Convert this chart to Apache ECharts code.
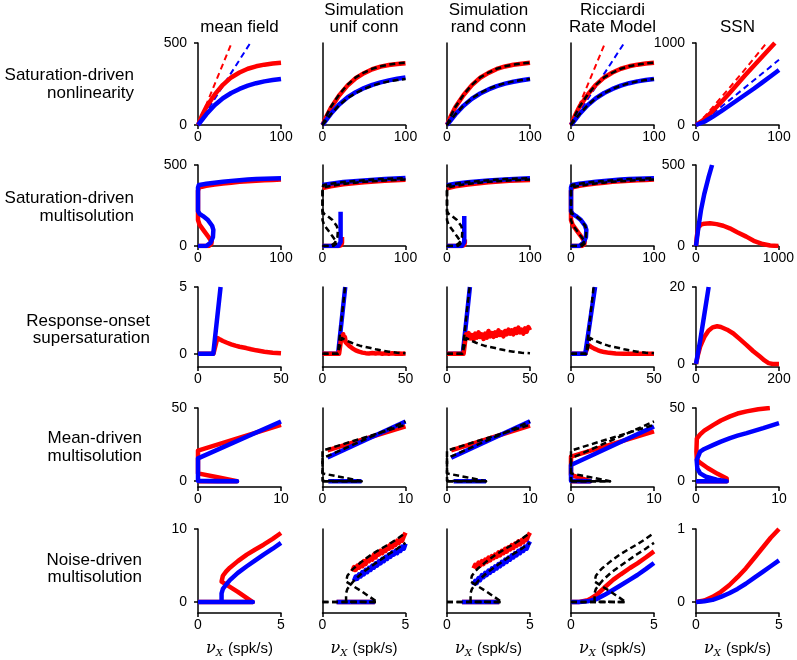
<!DOCTYPE html>
<html><head><meta charset="utf-8">
<script src="https://cdn.jsdelivr.net/npm/echarts@6/dist/echarts.min.js"></script>
<style>html,body{margin:0;padding:0;background:#fff}#c{width:797px;height:660px}</style>
</head><body><div id="c"></div>
<script>
// ---------- text ----------
const colTitles = ['mean field', 'Simulation\nunif conn', 'Simulation\nrand conn', 'Ricciardi\nRate Model', 'SSN'];
const rowLabels = ['Saturation-driven\nnonlinearity', 'Saturation-driven\nmultisolution', 'Response-onset\nsupersaturation', 'Mean-driven\nmultisolution', 'Noise-driven\nmultisolution'];
const xLabelText = '{nu|ν}{sub|X}{unit| (spk/s)}';

// ---------- tick labels ----------
const xTickVals = [
  [[0,100],[0,100],[0,100],[0,100],[0,100]],
  [[0,100],[0,100],[0,100],[0,100],[0,1000]],
  [[0,50],[0,50],[0,50],[0,50],[0,200]],
  [[0,10],[0,10],[0,10],[0,10],[0,10]],
  [[0,5],[0,5],[0,5],[0,5],[0,5]]
];
const yTickVals = [
  [[0,500],[0,500],[0,500],[0,500],[0,1000]],
  [[0,500],[0,500],[0,500],[0,500],[0,500]],
  [[0,5],[0,5],[0,5],[0,5],[0,20]],
  [[0,50],[0,50],[0,50],[0,50],[0,50]],
  [[0,10],[0,10],[0,10],[0,10],[0,1]]
];
const yLow = [
  [0,0,0,0,0],
  [0,0,0,0,0],
  [-1,-1,-1,-1,-0.8],
  [-4,-4,-4,-4,-4],
  [-1.5,-1.5,-1.5,-1.5,-0.15]
];

// ---------- Row 1: saturation-driven nonlinearity ----------
const r1_mf_E = [[0,0],[5,60],[10,110],[20,185],[30,245],[40,290],[50,320],[60,343],[70,358],[80,368],[90,375],[100,380]];
const r1_mf_I = [[0,0],[10,65],[20,120],[30,163],[40,195],[50,220],[60,240],[70,255],[80,266],[90,274],[100,281]];
const r1_lin_E = [[0,0],[40.5,500]];
const r1_lin_I = [[0,0],[63,500]];
const r1_su_E = [[0,0],[5,55],[10,104],[20,180],[30,240],[40,285],[50,316],[60,340],[70,356],[80,366],[90,372],[100,377]];
const r1_su_I = [[0,0],[10,68],[20,125],[30,168],[40,200],[50,225],[60,245],[70,260],[80,272],[90,282],[100,290]];
const r1_sr_E = [[0,0],[5,58],[10,108],[20,183],[30,243],[40,288],[50,318],[60,342],[70,357],[80,367],[90,374],[100,380]];
const r1_sr_I = [[0,0],[10,64],[20,118],[30,160],[40,192],[50,217],[60,237],[70,252],[80,264],[90,273],[100,281]];
const r1_ric_linE = [[0,0],[41,500]];
const r1_ric_linI = [[0,0],[64,500]];
const r1_ssn_E = [[0,0],[10,70],[20,170],[30,275],[40,385],[50,500],[60,615],[70,725],[80,835],[90,945],[95,1000]];
const r1_ssn_I = [[0,0],[10,40],[20,100],[30,165],[40,235],[50,305],[60,375],[70,445],[80,520],[90,595],[100,670]];
const r1_ssn_linE = [[0,0],[10,100],[20,215],[40,450],[60,690],[85,1000]];
const r1_ssn_linI = [[0,0],[20,140],[40,300],[60,465],[80,630],[100,795]];

// ---------- Row 2: saturation-driven multisolution ----------
const r2_mf_E = [[0,0],[13,0],[16,12],[16.5,27],[12,60],[7,95],[2,130],[0,160],[0,340],[1,360],[5,366],[10,371],[20,379],[30,386],[40,391],[50,396],[60,400],[70,403],[80,406],[90,408],[100,410]];
const r2_mf_I = [[0,0],[10,0],[15,20],[18,55],[18.5,100],[17,125],[12,160],[6,185],[2,198],[0,215],[0,360],[1,377],[5,380],[10,384],[20,391],[30,397],[40,402],[50,406],[60,410],[70,413],[80,415],[90,417],[100,418]];
const r2_su_Eup = [[0,358],[10,369],[25,381],[50,394],[75,403],[100,409]];
const r2_su_Iup = [[0,376],[10,385],[25,395],[50,405],[75,413],[100,419]];
const r2_su_Elow = [[0,0],[20,0],[22.5,5],[23.5,20],[23.5,55]];
const r2_su_Ilow = [[0,0],[19,0],[21,5],[21.8,25],[21.8,212]];
const r2_sr_Eup = [[0,356],[10,368],[25,380],[50,393],[75,402],[100,408]];
const r2_sr_Iup = [[0,375],[10,384],[25,394],[50,404],[75,412],[100,418]];
const r2_sr_Elow = [[0,0],[18,0],[20.5,5],[21.5,20],[21.5,40]];
const r2_sr_Ilow = [[0,0],[18,0],[20,5],[20.8,25],[20.8,185]];
const r2_ssn_E = [[0,0],[10,60],[28,115],[60,132],[100,138],[170,140],[250,135],[330,125],[410,109],[500,85],[610,58],[700,32],[811,12],[900,3],[1000,0]];
const r2_ssn_I = [[0,0],[25,100],[60,220],[100,320],[150,420],[195,500]];

// ---------- Row 3: response-onset supersaturation ----------
const r3_mf_E = [[0,0],[9.3,0],[11.7,1.17],[13,1.08],[15,0.95],[17.5,0.82],[20,0.7],[22.5,0.6],[25,0.52],[29,0.42],[32,0.33],[35,0.25],[40,0.15],[45,0.07],[50,0.03]];
const r3_mf_I = [[0,0],[9.2,0],[13.6,5]];
const r3_su_I = [[0,0],[9.4,0],[13.7,5]];
const r3_su_E = [[0,0],[10,0],[11,0.9],[11.5,1.3],[12,1.1],[12.5,1.45],[13,1.0],[13.5,1.25],[14,0.85],[15,0.95],[16,0.6],[17,0.7],[18,0.4],[19,0.45],[20,0.25],[21,0.3],[22,0.15],[23,0.2],[24,0.08],[25,0.12],[26,0.04],[27,0.08],[28,0.02],[30,0.05],[32,0.01],[34,0.04],[36,0],[38,0.03],[40,0],[42,0.03],[44,0],[46,0.02],[48,0],[50,0.02]];
const r3_sr_I = [[0,0],[9.5,0],[13.8,5]];
const r3_sr_E = [[0,0],[10,0],[11,1.0],[11.5,1.45],[12,1.2],[13,1.55],[14,1.15],[15,1.4],[16,1.05],[17,1.5],[18,1.2],[19,1.6],[20,1.25],[21,1.45],[22,1.1],[23,1.5],[24,1.2],[25,1.7],[26,1.3],[27,1.55],[28,1.25],[29,1.6],[30,1.35],[31,1.75],[32,1.4],[33,1.6],[34,1.3],[35,1.7],[36,1.45],[37,1.8],[38,1.5],[39,1.75],[40,1.45],[41,1.85],[42,1.55],[43,1.95],[44,1.6],[45,1.8],[46,1.5],[47,1.9],[48,1.65],[49,2.0],[50,1.75]];
const r3_ric_E = [[0,0],[8.6,0],[10.4,0.65],[12,0.52],[14,0.38],[16,0.27],[18,0.18],[20,0.12],[23,0.06],[27,0.02],[32,0],[50,0]];
const r3_ric_I = [[0,0],[8.6,0],[14.5,5]];
const r3_ssn_E = [[0,0],[5,2.5],[10,4.5],[20,7],[30,8.6],[40,9.5],[51,9.8],[60,9.6],[75,8.9],[90,7.9],[105,6.5],[122,4.9],[138,3.3],[154,1.9],[165,0.9],[175,0.2],[185,0],[200,0]];
const r3_ssn_I = [[0,0],[10,6],[20,12.8],[30.5,20]];

// ---------- Row 4: mean-driven multisolution ----------
const r4_mf_E = [[0,0],[4.7,0],[2.35,2.65],[0,5.3],[0,20.9],[10,38.5]];
const r4_mf_I = [[0,0],[4.7,0],[0,0.2],[0,15.6],[10,40.8]];
const r4_su_E = [[0.6,21],[10,37.4]];
const r4_su_I = [[0.6,16.2],[10,40.8]];
const r4_su_Ilow = [[0.7,0],[4.7,0]];
const r4_sr_E = [[0.5,21],[10,38]];
const r4_sr_I = [[0.5,16],[10,41]];
const r4_sr_Ilow = [[0.8,0],[4.7,0]];
const r4_ric_E = [[0,0],[2.3,0],[1.2,2],[0,4.2],[0,16.7],[10,34]];
const r4_ric_I = [[0,0],[2.3,0],[0,0.3],[0,11],[10,37.4]];
const r4_ssn_E = [[0,0],[3.7,0],[3.7,1.8],[2.6,5],[1.4,9],[0.4,13],[0.1,15],[0.05,20],[0.1,29],[0.5,32],[1,34.5],[2.1,38.5],[3,41.5],[4.1,44.3],[5,46.2],[6.1,47.7],[7.5,49.2],[8.9,50]];
const r4_ssn_I = [[0,0],[3.7,0],[2.5,1],[1.2,3],[0.5,5.3],[0.16,8.7],[0.08,14.4],[0.5,20.2],[1,22],[2.1,24.8],[3,27],[4.1,29.4],[5,31.1],[6.1,32.8],[8.1,36.2],[10,39.7]];

// ---------- Row 5: noise-driven multisolution ----------
const r5_mf_E = [[0,0],[3.3,0],[2.4,1.4],[1.42,2.8],[1.5,3.6],[1.7,4.2],[1.92,4.7],[2.4,5.6],[2.94,6.5],[3.45,7.2],[3.95,7.85],[4.5,8.65],[5,9.45]];
const r5_mf_I = [[0,0],[3.3,0],[1.42,0.05],[1.42,1.2],[1.5,1.8],[1.7,2.4],[1.92,3.0],[2.4,4.0],[2.94,4.9],[3.45,5.7],[3.95,6.5],[4.5,7.3],[5,8.1]];
const r5_su_low = [[0.85,0],[3.15,0]];
const r5_su_E = [[1.8,4.2],[1.9,4.8],[2.0,4.4],[2.1,5.0],[2.2,4.7],[2.3,5.3],[2.4,4.9],[2.5,5.6],[2.6,5.2],[2.7,5.9],[2.8,5.6],[2.9,6.1],[3.0,5.8],[3.1,6.5],[3.2,6.1],[3.3,6.8],[3.4,6.5],[3.5,7.0],[3.6,6.7],[3.7,7.3],[3.8,7.0],[3.9,7.6],[4.0,7.3],[4.1,7.9],[4.2,7.5],[4.3,8.1],[4.4,7.8],[4.5,8.4],[4.6,8.1],[4.7,8.7],[4.8,8.4],[4.9,9.0],[5.0,9.5]];
const r5_su_I = [[1.9,2.9],[2.0,3.5],[2.1,3.2],[2.2,3.8],[2.3,3.5],[2.4,4.1],[2.5,3.8],[2.6,4.4],[2.7,4.1],[2.8,4.7],[2.9,4.4],[3.0,5.0],[3.1,4.7],[3.2,5.3],[3.3,5.0],[3.4,5.6],[3.5,5.3],[3.6,5.9],[3.7,5.6],[3.8,6.2],[3.9,5.9],[4.0,6.5],[4.1,6.2],[4.2,6.8],[4.3,6.5],[4.4,7.0],[4.5,6.7],[4.6,7.3],[4.7,7.0],[4.8,7.6],[4.9,7.3],[5.0,8.0]];
const r5_sr_low = [[0.9,0],[3.15,0]];
const r5_sr_E = [[1.6,4.6],[1.7,5.1],[1.8,4.8],[1.9,5.4],[2.0,5.0],[2.1,5.6],[2.2,5.2],[2.3,5.8],[2.4,5.5],[2.5,6.1],[2.6,5.7],[2.7,6.3],[2.8,6.0],[2.9,6.5],[3.0,6.2],[3.1,6.8],[3.2,6.4],[3.3,7.0],[3.4,6.7],[3.5,7.3],[3.6,6.9],[3.7,7.5],[3.8,7.2],[3.9,7.8],[4.0,7.4],[4.1,8.0],[4.2,7.7],[4.3,8.3],[4.4,7.9],[4.5,8.5],[4.6,8.2],[4.7,8.8],[4.8,8.5],[4.9,9.1],[5.0,9.5]];
const r5_sr_I = [[1.6,2.3],[1.7,2.9],[1.8,2.6],[1.9,3.3],[2.0,3.0],[2.1,3.7],[2.2,3.4],[2.3,4.0],[2.4,3.7],[2.5,4.3],[2.6,4.0],[2.7,4.6],[2.8,4.3],[2.9,4.9],[3.0,4.6],[3.1,5.2],[3.2,4.9],[3.3,5.5],[3.4,5.2],[3.5,5.8],[3.6,5.5],[3.7,6.1],[3.8,5.8],[3.9,6.4],[4.0,6.1],[4.1,6.7],[4.2,6.4],[4.3,7.0],[4.4,6.7],[4.5,7.3],[4.6,7.0],[4.7,7.6],[4.8,7.3],[4.9,7.9],[5.0,8.3]];
const r5_ric_E = [[0,0],[0.5,0.02],[1,0.25],[1.14,0.4],[1.55,1.0],[2,1.95],[2.55,3.06],[3,3.8],[3.55,4.66],[4,5.3],[4.5,6.1],[5,6.94]];
const r5_ric_I = [[0,0],[0.5,0.01],[1,0.1],[1.55,0.41],[2,0.95],[2.55,1.69],[3,2.3],[3.55,3.06],[4,3.7],[4.5,4.5],[5,5.34]];
const r5_ssn_E = [[0,0],[0.5,0.02],[1,0.07],[1.5,0.14],[2,0.23],[2.5,0.34],[3,0.46],[3.5,0.6],[4,0.74],[4.5,0.88],[5,1.0]];
const r5_ssn_I = [[0,0],[0.5,0.01],[1,0.03],[1.5,0.07],[2,0.12],[2.5,0.18],[3,0.25],[3.5,0.33],[4,0.41],[4.5,0.49],[5,0.57]];

// ---------- styling helpers ----------
const FONT = '"Liberation Sans", Arial, Helvetica, sans-serif';
const SERIF = '"DejaVu Serif", serif';
const RED = '#ff0000', BLUE = '#0000ff';
function E(d){ return {data:d, color:RED, width:4.5}; }
function I(d){ return {data:d, color:BLUE, width:4.5}; }
function T(d){ return {data:d, color:'#000', width:2.5, dash:[6,3.5]}; }
function Ed(d){ return {data:d, color:RED, width:2, dash:[6,4]}; }
function Id(d){ return {data:d, color:BLUE, width:2, dash:[6,4]}; }

const panels = [
  [
    [Ed(r1_lin_E), Id(r1_lin_I), E(r1_mf_E), I(r1_mf_I)],
    [E(r1_su_E), I(r1_su_I), T(r1_mf_E), T(r1_mf_I)],
    [E(r1_sr_E), I(r1_sr_I), T(r1_mf_E), T(r1_mf_I)],
    [Ed(r1_ric_linE), Id(r1_ric_linI), E(r1_mf_E), I(r1_mf_I), T(r1_mf_E), T(r1_mf_I)],
    [Ed(r1_ssn_linE), Id(r1_ssn_linI), E(r1_ssn_E), I(r1_ssn_I)]
  ],
  [
    [E(r2_mf_E), I(r2_mf_I)],
    [E(r2_su_Eup), E(r2_su_Elow), I(r2_su_Iup), I(r2_su_Ilow), T(r2_mf_E), T(r2_mf_I)],
    [E(r2_sr_Eup), E(r2_sr_Elow), I(r2_sr_Iup), I(r2_sr_Ilow), T(r2_mf_E), T(r2_mf_I)],
    [E(r2_mf_E), I(r2_mf_I), T(r2_mf_E), T(r2_mf_I)],
    [E(r2_ssn_E), I(r2_ssn_I)]
  ],
  [
    [E(r3_mf_E), I(r3_mf_I)],
    [I(r3_su_I), E(r3_su_E), T(r3_mf_E), T(r3_mf_I)],
    [I(r3_sr_I), E(r3_sr_E), T(r3_mf_E), T(r3_mf_I)],
    [E(r3_ric_E), I(r3_ric_I), T(r3_mf_E), T(r3_mf_I)],
    [E(r3_ssn_E), I(r3_ssn_I)]
  ],
  [
    [E(r4_mf_E), I(r4_mf_I)],
    [E(r4_su_E), I(r4_su_I), I(r4_su_Ilow), T(r4_mf_E), T(r4_mf_I)],
    [E(r4_sr_E), I(r4_sr_I), I(r4_sr_Ilow), T(r4_mf_E), T(r4_mf_I)],
    [E(r4_ric_E), I(r4_ric_I), T(r4_mf_E), T(r4_mf_I)],
    [E(r4_ssn_E), I(r4_ssn_I)]
  ],
  [
    [E(r5_mf_E), I(r5_mf_I)],
    [E(r5_su_low), I(r5_su_low), E(r5_su_E), I(r5_su_I), T(r5_mf_E), T(r5_mf_I)],
    [E(r5_sr_low), I(r5_sr_low), E(r5_sr_E), I(r5_sr_I), T(r5_mf_E), T(r5_mf_I)],
    [E(r5_ric_E), I(r5_ric_I), T(r5_mf_E), T(r5_mf_I)],
    [E(r5_ssn_E), I(r5_ssn_I)]
  ]
];

// ---------- layout ----------
const colLeft = [198, 322.5, 447, 571, 696];
const panelW = 83;
const rowTop = [43, 165, 287, 408, 529];
const rowBot = [125, 246, 367, 487, 613];
const rowLabelRight = [134, 134, 150, 142, 142];
const rowLabelY = [84.5, 207.5, 330, 447.5, 569];

const grids = [], xAxes = [], yAxes = [], series = [];
const axisLineStyle = {color:'#000', width:1.5};
const plainNum = v => String(v);
let idx = 0;
for (let r = 0; r < 5; r++) {
  for (let c = 0; c < 5; c++) {
    grids.push({left: colLeft[c], top: rowTop[r], width: panelW, height: rowBot[r] - rowTop[r], containLabel: false});
    const xt = xTickVals[r][c], yt = yTickVals[r][c];
    xAxes.push({
      type: 'value', gridIndex: idx, min: xt[0], max: xt[1],
      axisLine: {show: true, onZero: false, lineStyle: axisLineStyle},
      axisTick: {show: true, customValues: xt, length: 4, lineStyle: axisLineStyle},
      axisLabel: {show: true, customValues: xt, margin: 5, fontSize: 14, color: '#000', fontFamily: FONT, formatter: plainNum},
      splitLine: {show: false}
    });
    const showY = (c === 0 || c === 4);
    yAxes.push({
      type: 'value', gridIndex: idx, min: yLow[r][c], max: yt[1],
      axisLine: {show: true, onZero: false, lineStyle: axisLineStyle},
      axisTick: {show: showY, customValues: yt, length: 4, lineStyle: axisLineStyle},
      axisLabel: {show: showY, customValues: yt, margin: 11, fontSize: 14, color: '#000', fontFamily: FONT, formatter: plainNum},
      splitLine: {show: false}
    });
    panels[r][c].forEach((s, k) => {
      series.push({
        type: 'line', xAxisIndex: idx, yAxisIndex: idx, data: s.data,
        showSymbol: false, symbol: 'none', silent: true, animation: false, clip: true,
        z: 2 + k,
        lineStyle: {color: s.color, width: s.width, type: s.dash || 'solid', cap: 'butt', join: 'round'},
        itemStyle: {color: s.color}
      });
    });
    idx++;
  }
}

const graphics = [];
colTitles.forEach((t, c) => {
  graphics.push({type: 'text', x: colLeft[c] + panelW / 2, y: 36.5, silent: true,
    style: {text: t, font: '17px ' + FONT, fill: '#000', lineHeight: 17.5,
      textAlign: 'center', align: 'center', textVerticalAlign: 'bottom', verticalAlign: 'bottom'}});
  graphics.push({type: 'text', x: colLeft[c] + panelW / 2, y: 649, silent: true,
    style: {text: xLabelText, fill: '#000', font: '15px ' + FONT,
      textAlign: 'center', align: 'center', textVerticalAlign: 'middle', verticalAlign: 'middle',
      rich: {
        nu: {fontSize: 16, fontStyle: 'italic', fontFamily: SERIF, fill: '#000', color: '#000', lineHeight: 18},
        sub: {fontSize: 10, fontStyle: 'italic', fontFamily: SERIF, fill: '#000', color: '#000', verticalAlign: 'bottom', lineHeight: 18, padding: [7, 1, 0, 0]},
        unit: {fontSize: 15, fontFamily: FONT, fill: '#000', color: '#000', lineHeight: 18}
      }}});
});
rowLabels.forEach((t, r) => {
  graphics.push({type: 'text', x: rowLabelRight[r], y: rowLabelY[r], silent: true,
    style: {text: t, font: '17px ' + FONT, fill: '#000', lineHeight: 17.5,
      textAlign: 'right', align: 'right', textVerticalAlign: 'middle', verticalAlign: 'middle'}});
});

const chart = echarts.init(document.getElementById('c'), null, {renderer: 'canvas'});
chart.setOption({
  animation: false,
  backgroundColor: '#fff',
  grid: grids, xAxis: xAxes, yAxis: yAxes, series: series,
  graphic: graphics
});
</script></body></html>
